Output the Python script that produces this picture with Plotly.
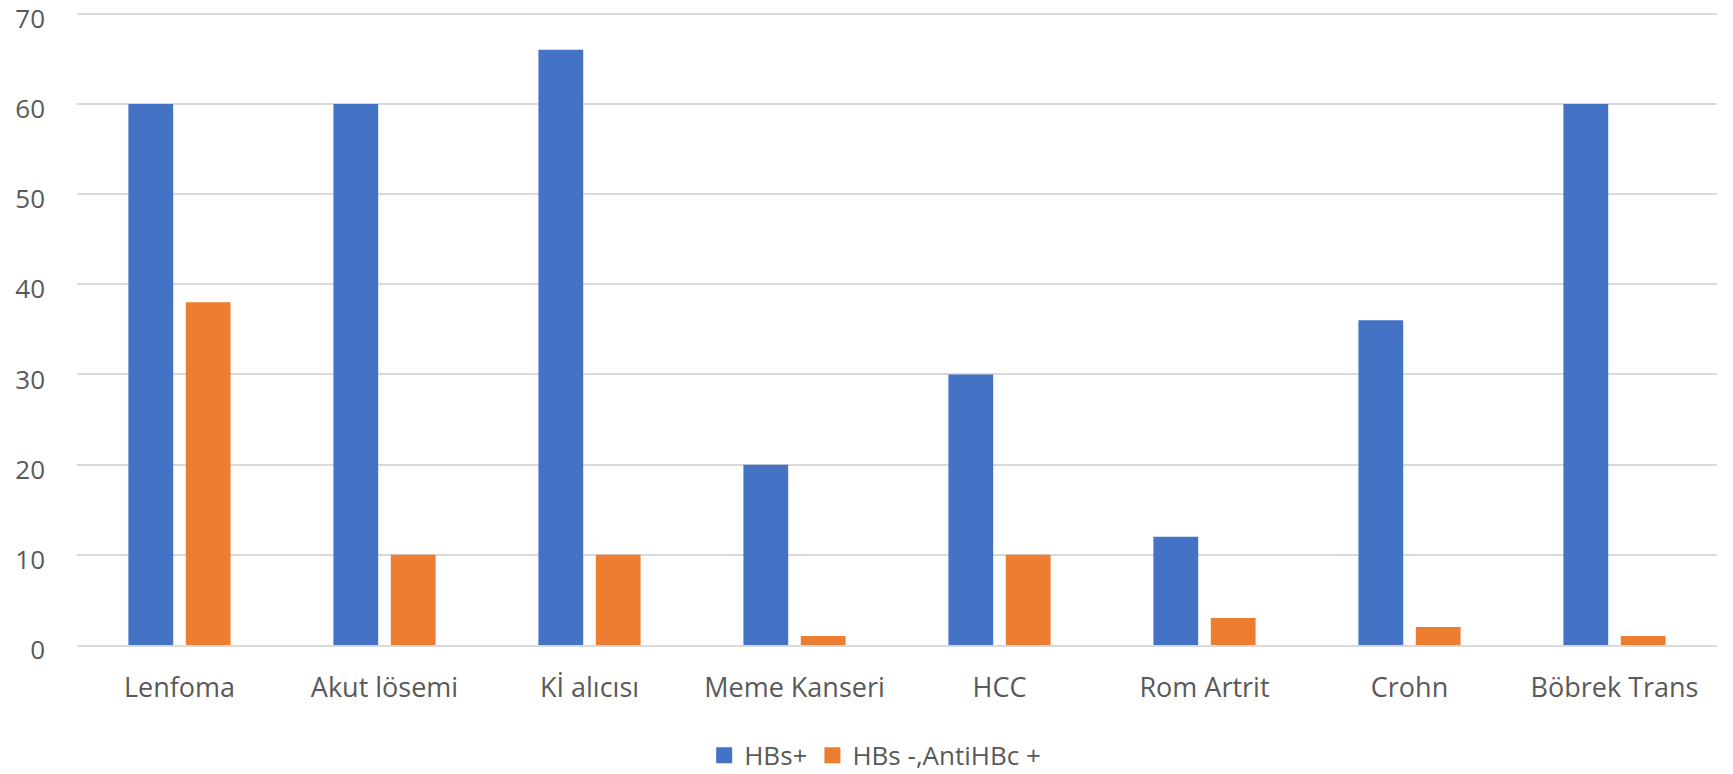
import plotly.graph_objects as go

categories = ["Lenfoma", "Akut lösemi", "Kİ alıcısı", "Meme Kanseri", "HCC",
              "Rom Artrit", "Crohn", "Böbrek Trans"]
hbs_pos = [60, 60, 66, 20, 30, 12, 36, 60]
hbs_neg_antihbc_pos = [38, 10, 10, 1, 10, 3, 2, 1]
series_names = ["HBs+", "HBs -,AntiHBc +"]
series_colors = ["#4472C4", "#ED7D31"]
y_ticks = [0, 10, 20, 30, 40, 50, 60, 70]

font_family = "Open Sans, Liberation Sans, sans-serif"
text_color = "#595959"

fig = go.Figure()
for vals, name, col in zip([hbs_pos, hbs_neg_antihbc_pos], series_names, series_colors):
    fig.add_trace(go.Bar(x=categories, y=vals, name=name, showlegend=False,
                         marker=dict(color=col, line=dict(width=0))))
# legend entries with square swatches
for name, col in zip(series_names, series_colors):
    fig.add_trace(go.Scatter(x=[None], y=[None], mode="markers", name=name,
                             marker=dict(symbol="square", size=19, color=col),
                             showlegend=True))

fig.update_layout(
    width=1733, height=774,
    barmode="group", bargap=0.44, bargroupgap=0.22,
    plot_bgcolor="white", paper_bgcolor="white",
    margin=dict(l=77, r=16, t=11, b=129),
    font=dict(family=font_family, size=27, color=text_color),
    legend=dict(orientation="h", xref="container", yref="container",
                x=0.505, xanchor="center", y=0.024, yanchor="middle",
                font=dict(size=26, color=text_color), itemsizing="trace",
                itemwidth=30, traceorder="normal", tracegroupgap=0),
    xaxis=dict(showgrid=False, showline=True, linecolor="#d9d9d9", linewidth=2,
               ticks="", tickfont=dict(size=27, color=text_color),
               ticklabelstandoff=18),
    yaxis=dict(range=[0, 70.3], tickvals=y_ticks, showgrid=True,
               gridcolor="#d9d9d9", gridwidth=1.5, zeroline=False,
               showline=False, ticks="", ticklabelstandoff=31,
               ticklabelshift=5,
               ticklabeloverflow="allow", automargin=False,
               tickfont=dict(size=26, color=text_color)),
)

fig.write_html("out.html", config={"displayModeBar": False},
               post_script="document.body.style.margin='0';document.body.style.overflow='hidden';")
